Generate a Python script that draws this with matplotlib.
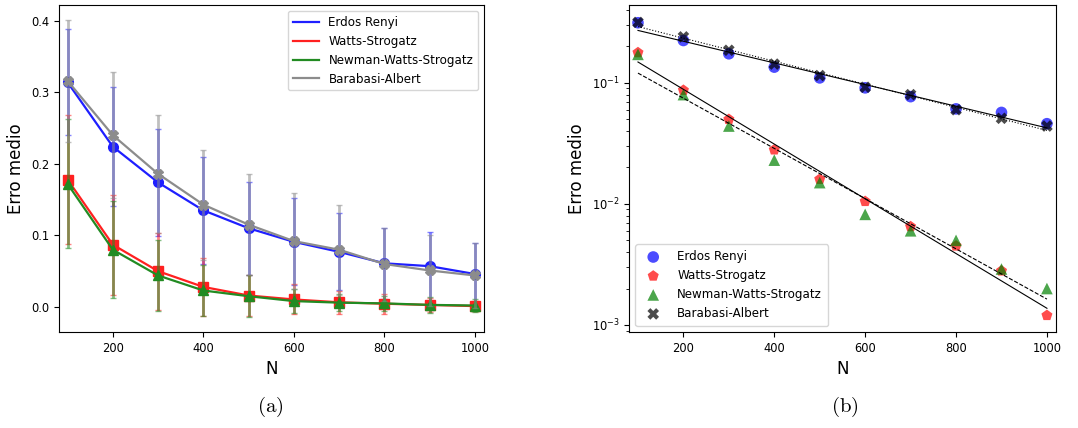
import numpy as np
import matplotlib
matplotlib.use("Agg")
import matplotlib.pyplot as plt

plt.rcParams['mathtext.fontset'] = 'cm'

# Tamanho da rede
N = [100, 200, 300, 400, 500, 600, 700, 800, 900, 1000]

# Erro medio por modelo
erdos = [0.314, 0.224, 0.174, 0.135, 0.110, 0.091, 0.077, 0.061, 0.057, 0.046]
watts = [0.178, 0.087, 0.050, 0.028, 0.016, 0.0105, 0.0065, 0.0045, 0.0028, 0.0012]
newman = [0.172, 0.080, 0.044, 0.023, 0.015, 0.0082, 0.0060, 0.0050, 0.0029, 0.0020]
barabasi = [0.316, 0.240, 0.186, 0.143, 0.115, 0.092, 0.080, 0.060, 0.051, 0.044]

# Desvio padrao
erdos_std = [0.074, 0.083, 0.075, 0.075, 0.065, 0.061, 0.054, 0.050, 0.048, 0.044]
watts_std = [0.090, 0.070, 0.054, 0.040, 0.029, 0.021, 0.016, 0.014, 0.010, 0.007]
newman_std = [0.090, 0.068, 0.050, 0.036, 0.029, 0.017, 0.012, 0.011, 0.011, 0.009]
barabasi_std = [0.085, 0.088, 0.082, 0.077, 0.071, 0.067, 0.063, 0.051, 0.050, 0.045]

names = ['Erdos Renyi', 'Watts-Strogatz', 'Newman-Watts-Strogatz', 'Barabasi-Albert']
means = [erdos, watts, newman, barabasi]
stds = [erdos_std, watts_std, newman_std, barabasi_std]

fig = plt.figure(figsize=(10.78, 4.28), dpi=100)
ax1 = fig.add_axes([0.0547, 0.2243, 0.3943, 0.764])
ax2 = fig.add_axes([0.5838, 0.2243, 0.3958, 0.764])

# (a) erro com barras
colors_a = ['#1f1fff', '#ff2020', '#228b22', '#8c8c8c']
markers_a = ['o', 's', '^', 'X']
for name, m, s, c, mk in zip(names, means, stds, colors_a, markers_a):
    ax1.errorbar(N, m, yerr=s, fmt='none', ecolor=c, elinewidth=2, capsize=2.5, alpha=0.55)
    ax1.plot(N, m, color=c, marker=mk, markersize=7, lw=1.6, label=name)
ax1.set_xlim(81, 1020)
ax1.set_ylim(-0.035, 0.422)
ax1.set_yticks([0.0, 0.1, 0.2, 0.3, 0.4])
ax1.set_xticks([200, 400, 600, 800, 1000])
ax1.tick_params(labelsize=8.3)
ax1.set_xlabel('N', fontsize=12)
ax1.set_ylabel('Erro medio', fontsize=12)
leg = ax1.legend(loc='upper right', fontsize=8.6, handlelength=2.2)
for h in leg.get_lines():
    h.set_marker('')

# (b) escala log com ajuste exponencial
colors_b = ['#0000ff', '#ff0000', 'green', 'black']
markers_b = ['o', 'p', '^', 'X']
styles = ['-', '-', '--', ':']
x = np.array(N)
for name, m, c, mk, ls in zip(names, means, colors_b, markers_b, styles):
    ax2.scatter(N, m, color=c, marker=mk, s=70, alpha=0.7, edgecolors='none', label=name)
    p = np.polyfit(x, np.log10(m), 1)
    ax2.plot(x, 10 ** np.polyval(p, x), color='black', ls=ls, lw=0.8)
ax2.set_yscale('log')
ax2.set_xlim(81, 1020)
ax2.set_ylim(8.75e-4, 0.44)
ax2.set_xticks([200, 400, 600, 800, 1000])
ax2.tick_params(labelsize=8.3)
ax2.set_xlabel('N', fontsize=12)
ax2.set_ylabel('Erro medio', fontsize=12)
ax2.legend(loc='lower left', fontsize=8.6, handletextpad=1.0, borderpad=0.5)

fig.text(0.251, 0.05, r'$\mathrm{(a)}$', ha='center', va='center', fontsize=15)
fig.text(0.784, 0.05, r'$\mathrm{(b)}$', ha='center', va='center', fontsize=15)

fig.savefig('out.png', dpi=100)
